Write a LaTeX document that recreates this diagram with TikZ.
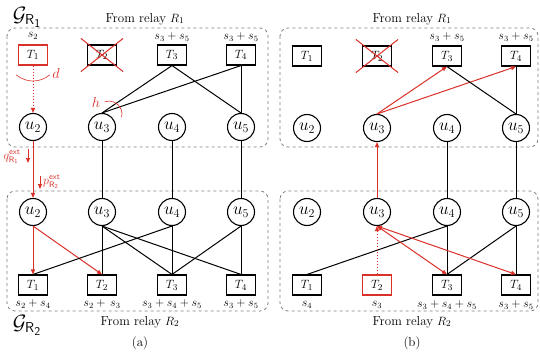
\documentclass[tikz,border=0pt]{standalone}
\usepackage{amsmath}
\usepackage{amssymb}
\usetikzlibrary{arrows.meta}
\definecolor{relred}{RGB}{218,48,40}
\tikzset{
  tbox/.style={draw, line width=1.1pt, minimum width=29pt, minimum height=20pt, inner sep=0pt, font=\fontsize{13}{15}\selectfont},
  rbox/.style={tbox, draw=relred},
  unode/.style={draw, circle, line width=1.1pt, minimum size=27pt, inner sep=0pt, font=\LARGE},
  group/.style={draw=gray, dashed, rounded corners=8pt, line width=0.8pt},
  link/.style={line width=1pt},
  rlink/.style={link, relred, -{Triangle[length=5pt,width=4pt]}},
  dlink/.style={rlink, dotted},
  blink/.style={link, relred, {Triangle[length=5pt,width=4pt]}-{Triangle[length=5pt,width=4pt]}},
  lbl/.style={font=\large, inner sep=1pt},
  head/.style={font=\fontsize{13}{15}\selectfont, inner sep=1pt},
}
\begin{document}
\begin{tikzpicture}[x=1pt,y=1pt]
    \useasboundingbox (0,0) rectangle (540,-353);
    % groups
    \draw[group] (7,-28) rectangle (268,-147);
    \draw[group] (7,-191) rectangle (268,-311);
    \draw[group] (280,-28) rectangle (538,-147);
    \draw[group] (280,-191) rectangle (538,-311);
    \node[font=\huge] (GR1) at (27,-17) {$\mathcal{G}_{\mathsf{R}_{\mathsf{1}}}$};
    \node[font=\huge] (GR2) at (27,-325) {$\mathcal{G}_{\mathsf{R}_{\mathsf{2}}}$};
    \node[head] (Ra1) at (145,-19) {From relay $R_1$};
    \node[head] (Ra2) at (140,-322) {From relay $R_2$};
    \node[head] (Rb1) at (412,-19) {From relay $R_1$};
    \node[head] (Rb2) at (412,-322) {From relay $R_2$};
    \node[head] (capa) at (140,-343) {(a)};
    \node[head] (capb) at (412,-343) {(b)};

    % (a), relay R1
    \node[rbox] (T1a1) at (33,-55) {$T_1$};
    \node[tbox] (T2a1) at (102,-55) {$T_2$};
    \node[tbox] (T3a1) at (172,-55) {$T_3$};
    \node[tbox] (T4a1) at (241,-55) {$T_4$};
    \node[unode] (u2a1) at (33,-127) {$u_2$};
    \node[unode] (u3a1) at (102,-127) {$u_3$};
    \node[unode] (u4a1) at (172,-127) {$u_4$};
    \node[unode] (u5a1) at (241,-127) {$u_5$};
    \node[lbl] at (33,-36) {$s_2$};
    \node[lbl] at (172,-37) {$s_3+s_5$};
    \node[lbl] at (241,-37) {$s_3+s_5$};
    \draw[relred, link] ([shift={(-6,-6)}]T2a1.south west) -- ([shift={(6,6)}]T2a1.north east);
    \draw[relred, link] ([shift={(-6,6)}]T2a1.north west) -- ([shift={(6,-6)}]T2a1.south east);
    \draw[dlink] (T1a1.south) -- (u2a1.north);
    \draw[link] (T3a1.south) -- (u3a1.north);
    \draw[link] (T3a1.south) -- (u5a1.north);
    \draw[link] (T4a1.south) -- (u3a1.north);
    \draw[link] (T4a1.south) -- (u5a1.north);
    \draw[relred, line width=0.6pt] (T1a1) ++(230:26) arc (230:310:26);
    \node[relred, font=\fontsize{14}{16}\selectfont] (d) at (56,-73) {$d$};
    \draw[relred, line width=0.6pt] (109,-114) ++(110:13) arc (110:-15:13);
    \node[relred, font=\fontsize{14}{16}\selectfont] (h) at (96,-102) {$h$};

    % (a), relay R2
    \node[unode] (u2a2) at (33,-212) {$u_2$};
    \node[unode] (u3a2) at (102,-212) {$u_3$};
    \node[unode] (u4a2) at (172,-212) {$u_4$};
    \node[unode] (u5a2) at (241,-212) {$u_5$};
    \node[tbox] (T1a2) at (33,-285) {$T_1$};
    \node[tbox] (T2a2) at (102,-285) {$T_2$};
    \node[tbox] (T3a2) at (172,-285) {$T_3$};
    \node[tbox] (T4a2) at (241,-285) {$T_4$};
    \node[lbl] at (33,-304) {$s_2+s_4$};
    \node[lbl] at (102,-304) {$s_2+\,s_3$};
    \node[lbl] at (172,-304) {$s_3+s_4+s_5$};
    \node[lbl] at (241,-304) {$s_3+s_5$};
    \draw[rlink] (u2a1.south) -- (u2a2.north);
    \draw[link] (u3a1.south) -- (u3a2.north);
    \draw[link] (u4a1.south) -- (u4a2.north);
    \draw[link] (u5a1.south) -- (u5a2.north);
    \draw[rlink] (u2a2.south) -- (T1a2.north);
    \draw[rlink] (u2a2.south) -- (T2a2.north);
    \draw[link] (u3a2.south) -- (T2a2.north);
    \draw[link] (u3a2.south) -- (T3a2.north);
    \draw[link] (u3a2.south) -- (T4a2.north);
    \draw[link] (u4a2.south) -- (T1a2.north);
    \draw[link] (u4a2.south) -- (T3a2.north);
    \draw[link] (u5a2.south) -- (T3a2.north);
    \draw[link] (u5a2.south) -- (T4a2.north);
    \coordinate (q1) at (28,-149);
    \coordinate (q2) at (28,-163);
    \draw[rlink] (q1) -- (q2);
    \node[relred, inner sep=0pt, font=\large] (qR1) at (12,-157) {$q^{\mathsf{ext}}_{\mathsf{R}_{\mathsf{1}}}$};
    \coordinate (p1) at (40,-176);
    \coordinate (p2) at (40,-189);
    \draw[rlink] (p1) -- (p2);
    \node[relred, inner sep=0pt, anchor=west, font=\large] (pR2) at (43,-182) {$p^{\mathsf{ext}}_{\mathsf{R}_{\mathsf{2}}}$};

    % (b), relay R1
    \node[tbox] (T1b1) at (307,-56) {$T_1$};
    \node[tbox] (T2b1) at (377,-56) {$T_2$};
    \node[tbox] (T3b1) at (447,-56) {$T_3$};
    \node[tbox] (T4b1) at (516,-56) {$T_4$};
    \node[unode] (u2b1) at (307,-128) {$u_2$};
    \node[unode] (u3b1) at (377,-128) {$u_3$};
    \node[unode] (u4b1) at (447,-128) {$u_4$};
    \node[unode] (u5b1) at (516,-128) {$u_5$};
    \node[lbl] at (447,-37) {$s_3+s_5$};
    \node[lbl] at (516,-37) {$s_3+s_5$};
    \draw[relred, link] ([shift={(-6,-6)}]T2b1.south west) -- ([shift={(6,6)}]T2b1.north east);
    \draw[relred, link] ([shift={(-6,6)}]T2b1.north west) -- ([shift={(6,-6)}]T2b1.south east);
    \draw[rlink] (u3b1.north) -- (T3b1.south);
    \draw[rlink] (u3b1.north) -- (T4b1.south);
    \draw[link] (T3b1.south) -- (u5b1.north);
    \draw[link] (T4b1.south) -- (u5b1.north);

    % (b), relay R2
    \node[unode] (u2b2) at (307,-212) {$u_2$};
    \node[unode] (u3b2) at (377,-212) {$u_3$};
    \node[unode] (u4b2) at (447,-212) {$u_4$};
    \node[unode] (u5b2) at (516,-212) {$u_5$};
    \node[tbox] (T1b2) at (307,-285) {$T_1$};
    \node[rbox] (T2b2) at (377,-285) {$T_2$};
    \node[tbox] (T3b2) at (447,-285) {$T_3$};
    \node[tbox] (T4b2) at (516,-285) {$T_4$};
    \node[lbl] at (307,-305) {$s_4$};
    \node[lbl] at (377,-305) {$s_3$};
    \node[lbl] at (447,-305) {$s_3+s_4+s_5$};
    \node[lbl] at (516,-305) {$s_3+s_5$};
    \draw[rlink] (u3b2.north) -- (u3b1.south);
    \draw[link] (u4b1.south) -- (u4b2.north);
    \draw[link] (u5b1.south) -- (u5b2.north);
    \draw[link] (u4b2.south) -- (T1b2.north);
    \draw[link] (u4b2.south) -- (T3b2.north);
    \draw[link] (u5b2.south) -- (T3b2.north);
    \draw[link] (u5b2.south) -- (T4b2.north);
    \draw[blink] (u3b2.south) -- (T3b2.north);
    \draw[blink] (u3b2.south) -- (T4b2.north);
    \draw[dlink] (T2b2.north) -- (u3b2.south);
\end{tikzpicture}
\end{document}
